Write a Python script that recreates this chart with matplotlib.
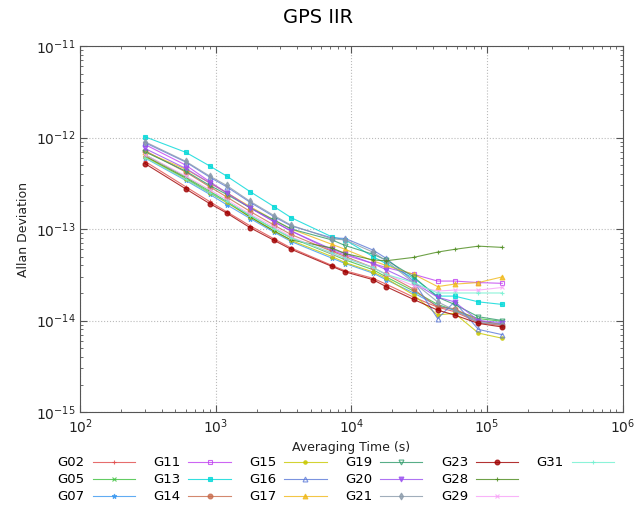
import matplotlib
matplotlib.use('Agg')
import matplotlib.pyplot as plt
from matplotlib.lines import Line2D

# averaging times (s)
taus = [300, 600, 900, 1200, 1800, 2700, 3600, 7200, 9000,
        14400, 18000, 28800, 43200, 57600, 86400, 129600]

sats = ['G02', 'G05', 'G07', 'G11', 'G13', 'G14', 'G15', 'G16', 'G17',
        'G19', 'G20', 'G21', 'G23', 'G28', 'G29', 'G31']

g02 = [5.5e-13, 2.9e-13, 2.0e-13, 1.55e-13, 1.08e-13, 7.8e-14, 6.2e-14, 4.0e-14,
       3.5e-14, 2.9e-14, 2.5e-14, 1.8e-14, 1.4e-14, 1.25e-14, 9.5e-15, 8.8e-15]
g05 = [6.5e-13, 3.7e-13, 2.6e-13, 2.0e-13, 1.4e-13, 1.0e-13, 8.0e-14, 5.3e-14,
       4.6e-14, 3.6e-14, 3.0e-14, 2.1e-14, 1.5e-14, 1.3e-14, 1.05e-14, 9.8e-15]
g07 = [6.0e-13, 3.4e-13, 2.4e-13, 1.85e-13, 1.3e-13, 9.2e-14, 7.3e-14, 4.8e-14,
       4.2e-14, 3.3e-14, 2.8e-14, 2.0e-14, 1.45e-14, 1.3e-14, 9.8e-15, 9.2e-15]
g11 = [8.4e-13, 5.0e-13, 3.3e-13, 2.5e-13, 1.7e-13, 1.2e-13, 9.5e-14, 5.8e-14,
       5.2e-14, 4.2e-14, 3.8e-14, 3.2e-14, 2.7e-14, 2.7e-14, 2.6e-14, 2.55e-14]
g13 = [1.02e-12, 6.9e-13, 4.9e-13, 3.8e-13, 2.55e-13, 1.75e-13, 1.33e-13, 8.2e-14,
       7.6e-14, 5.0e-14, 4.2e-14, 2.9e-14, 1.85e-14, 1.85e-14, 1.6e-14, 1.5e-14]
g14 = [7.2e-13, 4.2e-13, 2.9e-13, 2.25e-13, 1.55e-13, 1.1e-13, 8.7e-14, 5.7e-14,
       5.0e-14, 3.8e-14, 3.2e-14, 2.2e-14, 1.4e-14, 1.35e-14, 1.0e-14, 9.0e-15]
g15 = [6.2e-13, 3.5e-13, 2.5e-13, 1.95e-13, 1.35e-13, 9.5e-14, 7.5e-14, 5.0e-14,
       4.3e-14, 3.4e-14, 2.9e-14, 1.9e-14, 1.15e-14, 1.2e-14, 7.3e-15, 6.4e-15]
g16 = [8.8e-13, 5.4e-13, 3.7e-13, 2.9e-13, 1.95e-13, 1.36e-13, 1.08e-13, 8.0e-14,
       7.9e-14, 5.9e-14, 4.8e-14, 2.7e-14, 1.05e-14, 1.6e-14, 8.0e-15, 7.0e-15]
g17 = [7.0e-13, 4.5e-13, 3.2e-13, 2.5e-13, 1.75e-13, 1.25e-13, 1.0e-13, 6.8e-14,
       6.0e-14, 4.5e-14, 4.0e-14, 3.2e-14, 2.35e-14, 2.5e-14, 2.6e-14, 3.0e-14]
g19 = [7.0e-13, 4.3e-13, 3.0e-13, 2.4e-13, 1.7e-13, 1.25e-13, 1.0e-13, 7.6e-14,
       6.6e-14, 5.3e-14, 4.6e-14, 3.0e-14, 1.8e-14, 1.5e-14, 1.1e-14, 1.0e-14]
g20 = [7.6e-13, 4.6e-13, 3.2e-13, 2.5e-13, 1.7e-13, 1.2e-13, 9.5e-14, 6.0e-14,
       5.4e-14, 4.2e-14, 3.6e-14, 2.6e-14, 1.8e-14, 1.6e-14, 1.0e-14, 9.5e-15]
g21 = [9.0e-13, 5.5e-13, 3.8e-13, 3.0e-13, 2.0e-13, 1.4e-13, 1.1e-13, 7.8e-14,
       7.6e-14, 5.6e-14, 4.5e-14, 2.6e-14, 1.6e-14, 1.3e-14, 9.5e-15, 9.0e-15]
g23 = [5.2e-13, 2.75e-13, 1.9e-13, 1.5e-13, 1.03e-13, 7.5e-14, 6.0e-14, 3.9e-14,
       3.4e-14, 2.8e-14, 2.35e-14, 1.7e-14, 1.3e-14, 1.15e-14, 9.3e-15, 8.5e-15]
g28 = [6.3e-13, 3.6e-13, 2.5e-13, 2.0e-13, 1.35e-13, 9.5e-14, 7.6e-14, 6.2e-14,
       5.4e-14, 4.6e-14, 4.5e-14, 4.9e-14, 5.6e-14, 6.0e-14, 6.5e-14, 6.3e-14]
g29 = [6.5e-13, 3.8e-13, 2.7e-13, 2.1e-13, 1.45e-13, 1.05e-13, 8.2e-14, 5.4e-14,
       4.8e-14, 3.8e-14, 3.2e-14, 2.4e-14, 2.1e-14, 2.15e-14, 2.15e-14, 2.3e-14]
g31 = [6.0e-13, 3.5e-13, 2.5e-13, 2.0e-13, 1.4e-13, 1.0e-13, 8.0e-14, 5.5e-14,
       4.8e-14, 3.8e-14, 3.2e-14, 2.6e-14, 2.0e-14, 2.0e-14, 2.0e-14, 2.0e-14]

adev = [g02, g05, g07, g11, g13, g14, g15, g16, g17,
        g19, g20, g21, g23, g28, g29, g31]

# style per satellite: color, marker, filled
styles = {
    'G02': ('#e04848', '+', True),
    'G05': ('#3cc03c', 'x', True),
    'G07': ('#3a98f0', '*', True),
    'G11': ('#c040f0', 's', False),
    'G13': ('#00d8d8', 's', True),
    'G14': ('#c86a4a', 'o', True),
    'G15': ('#c8c800', '.', True),
    'G16': ('#5a78d8', '^', False),
    'G17': ('#f0b818', '^', True),
    'G19': ('#2e9a6a', 'v', False),
    'G20': ('#9a50f0', 'v', True),
    'G21': ('#8a9aaa', 'd', True),
    'G23': ('#a00000', 'o', True),
    'G28': ('#4a8a1a', '+', True),
    'G29': ('#f8a0f8', 'x', True),
    'G31': ('#70f0d0', '+', True),
}

fig = plt.figure(figsize=(6.36, 5.17), dpi=100)
ax = fig.add_axes([0.126, 0.203, 0.853, 0.708])

handles = []
for name, vals in zip(sats, adev):
    c, m, filled = styles[name]
    h, = ax.plot(taus, vals, color=c, marker=m, markersize=3.5 if m != '.' else 5,
                 markerfacecolor=c if filled else 'none', markeredgecolor=c,
                 markeredgewidth=0.8, linewidth=0.8, alpha=0.8, label=name)
    handles.append(h)

ax.set_xscale('log')
ax.set_yscale('log')
ax.set_xlim(1e2, 1e6)
ax.set_ylim(1e-15, 1e-11)
ax.grid(True, which='major', linestyle=':', color='#bbbbbb', linewidth=0.8)
ax.tick_params(which='both', direction='in', top=True, right=True,
               colors='#555555', labelcolor='#222222', labelsize=10)
ax.tick_params(which='major', length=5)
ax.tick_params(which='minor', length=2.5)
for s in ax.spines.values():
    s.set_color('#555555')

ax.set_xlabel('Averaging Time (s)', fontsize=9, color='#222222')
ax.set_ylabel('Allan Deviation', fontsize=9, color='#222222')
fig.suptitle('GPS IIR', fontsize=14, y=0.985)

# pad so the legend fills 5 full columns and G31 sits alone in the last one
blank = [Line2D([], [], color='none') for _ in range(2)]
labels = sats + [' ', ' ']
fig.legend(handles + blank, labels, loc='upper center',
           bbox_to_anchor=(0.528, 0.14), ncol=6,
           frameon=False, markerfirst=False, fontsize=9.5,
           handlelength=3.2, columnspacing=1.4, labelspacing=0.3,
           handletextpad=0.6)

fig.savefig('out.png', dpi=100)
